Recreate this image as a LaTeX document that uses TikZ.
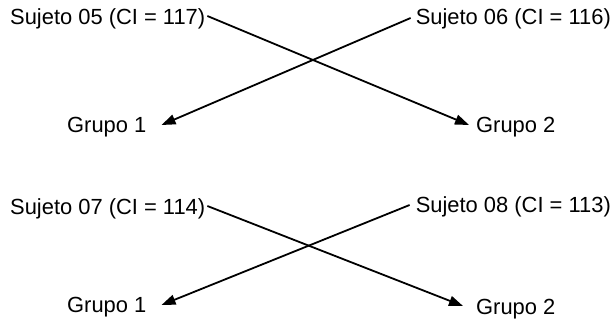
\documentclass[tikz,border=0pt]{standalone}
\usepackage{fontspec}
\setmainfont{Liberation Sans}
\usetikzlibrary{arrows.meta}
\begin{document}
\begin{tikzpicture}[x=1pt,y=1pt,
  lbl/.style={inner sep=0pt,font=\fontsize{21.9}{26}\selectfont},
  con/.style={line width=1.8pt,-{Triangle[length=14pt,width=10pt]}}]
\useasboundingbox (0,0) rectangle (612,321);
% row 1
\node[lbl,anchor=west] (s05) at (10,302) {Sujeto 05 (CI = 117)};
\node[lbl,anchor=east] (s06) at (611,302) {Sujeto 06 (CI = 116)};
\node[lbl,anchor=west] (g1a) at (67,194) {Grupo 1};
\node[lbl,anchor=west] (g2a) at (476,194) {Grupo 2};
\draw[con] ([xshift=2pt,yshift=3pt]s05.east) -- ([xshift=-7pt,yshift=2pt]g2a.west);
\draw[con] ([xshift=-5pt,yshift=1pt]s06.west) -- ([xshift=15pt,yshift=2pt]g1a.east);
% row 2
\node[lbl,anchor=west] (s07) at (10,112) {Sujeto 07 (CI = 114)};
\node[lbl,anchor=east] (s08) at (611,114) {Sujeto 08 (CI = 113)};
\node[lbl,anchor=west] (g1b) at (67,14) {Grupo 1};
\node[lbl,anchor=west] (g2b) at (476,12) {Grupo 2};
\draw[con] ([xshift=2pt,yshift=3pt]s07.east) -- ([xshift=-13pt,yshift=3pt]g2b.west);
\draw[con] ([xshift=-6pt,yshift=2pt]s08.west) -- ([xshift=15pt,yshift=2pt]g1b.east);
\end{tikzpicture}
\end{document}
